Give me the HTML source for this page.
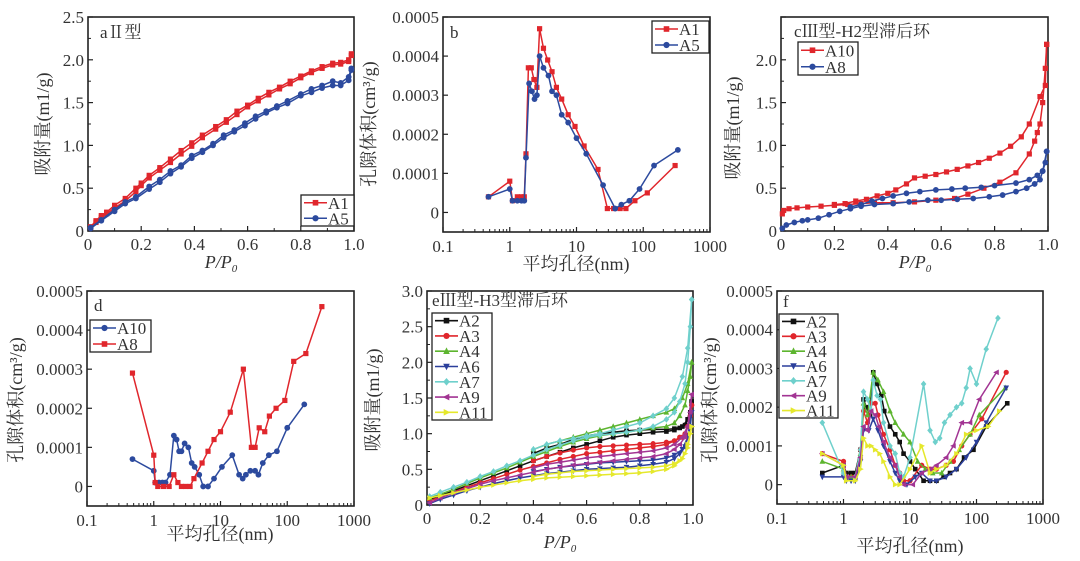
<!DOCTYPE html>
<html><head><meta charset="utf-8"><style>
html,body{margin:0;padding:0;background:#fff;}
svg{display:block;font-family:"Liberation Serif","Noto Serif CJK SC",serif;}
</style></head><body>
<svg id="fig" width="1080" height="561" viewBox="0 0 1080 561" xmlns="http://www.w3.org/2000/svg"></svg>
<script>
// ---------- Panel a data ----------
const aA1x=[0.01,0.03,0.05,0.07,0.1,0.14,0.18,0.2,0.23,0.27,0.31,0.35,0.39,0.43,0.48,0.52,0.56,0.6,0.64,0.68,0.72,0.76,0.8,0.84,0.88,0.92,0.95,0.98,0.99];
const aA1y=[0.05,0.12,0.18,0.22,0.3,0.38,0.5,0.56,0.65,0.74,0.84,0.94,1.03,1.12,1.22,1.3,1.4,1.47,1.55,1.62,1.68,1.75,1.81,1.87,1.92,1.96,1.97,2.0,2.07];
const aA1dy=[0.04,0.1,0.16,0.2,0.27,0.35,0.46,0.53,0.62,0.71,0.8,0.9,0.99,1.09,1.19,1.27,1.36,1.45,1.52,1.59,1.66,1.72,1.79,1.85,1.9,1.94,1.95,1.98,2.05];
const aA5x=[0.01,0.05,0.1,0.14,0.18,0.23,0.27,0.31,0.35,0.39,0.43,0.47,0.51,0.55,0.59,0.63,0.67,0.71,0.75,0.8,0.84,0.88,0.92,0.95,0.98,0.99];
const aA5y=[0.04,0.13,0.25,0.34,0.4,0.52,0.6,0.7,0.77,0.88,0.94,1.02,1.12,1.18,1.26,1.34,1.4,1.46,1.52,1.6,1.66,1.7,1.75,1.73,1.8,1.9];
const aA5dy=[0.03,0.12,0.23,0.32,0.38,0.49,0.57,0.67,0.75,0.85,0.92,1.0,1.09,1.16,1.23,1.31,1.38,1.44,1.49,1.58,1.62,1.67,1.7,1.7,1.76,1.88];
// ---------- Panel b data ----------
const bA1x=[0.48,1.0,1.1,1.3,1.5,1.65,1.75,1.9,2.1,2.3,2.55,2.8,3.2,3.7,4.3,5,6,7.5,9.5,13,21,29,36,45,55,75,115,300];
const bA1y=[4,8,3,4,4,4,15,37,37,34,32,47,42,39,36,32,29,25,22,17,11,1,1,1,1,3,5,12];
const bA5x=[0.48,1.0,1.1,1.3,1.5,1.65,1.75,1.95,2.15,2.35,2.55,2.8,3.2,3.8,4.3,5,6,7.5,10,14,25,38,47,62,88,145,330];
const bA5y=[4,6,3,3,3,3,14,33,31,29,30,40,37,35,31,30,25,23,19,15,7,1,2,3,6,12,16];
// ---------- Panel c data ----------
const cA10ax=[0.005,0.01,0.03,0.06,0.1,0.15,0.2,0.25,0.3,0.35,0.42,0.5,0.58,0.65,0.7,0.76,0.82,0.88,0.93,0.95,0.96,0.97,0.98,0.99,0.995];
const cA10ay=[0.2,0.24,0.26,0.27,0.28,0.29,0.3,0.31,0.32,0.33,0.33,0.34,0.36,0.38,0.43,0.5,0.57,0.68,0.9,1.05,1.15,1.25,1.5,1.9,2.18];
const cA10dx=[0.995,0.99,0.97,0.93,0.9,0.86,0.82,0.78,0.74,0.7,0.66,0.62,0.58,0.54,0.5,0.47,0.43,0.4,0.36,0.32,0.28,0.24,0.2];
const cA10dy=[2.18,1.7,1.57,1.25,1.1,0.99,0.91,0.85,0.8,0.76,0.72,0.69,0.66,0.64,0.62,0.55,0.48,0.44,0.41,0.37,0.35,0.32,0.31];
const cA8ax=[0.005,0.02,0.05,0.08,0.1,0.14,0.18,0.22,0.26,0.3,0.35,0.42,0.48,0.55,0.6,0.66,0.72,0.78,0.83,0.88,0.92,0.95,0.97,0.98,0.99,0.995];
const cA8ay=[0.03,0.07,0.1,0.12,0.13,0.15,0.19,0.23,0.26,0.29,0.31,0.32,0.34,0.36,0.36,0.37,0.38,0.4,0.42,0.46,0.5,0.55,0.6,0.7,0.8,0.93];
const cA8dx=[0.995,0.98,0.96,0.93,0.88,0.8,0.75,0.69,0.64,0.58,0.52,0.47,0.42,0.38,0.34,0.3,0.26];
const cA8dy=[0.93,0.7,0.65,0.6,0.56,0.53,0.51,0.5,0.49,0.48,0.46,0.44,0.41,0.38,0.35,0.31,0.28];
// ---------- Panel d data ----------
const dA10x=[0.48,1.0,1.05,1.2,1.35,1.5,1.75,2.0,2.2,2.4,2.6,2.9,3.3,3.7,4.1,4.8,5.5,6.5,8,10.5,15,19,21.5,24,28,33,37,43,53,70,100,180];
const dA10y=[7,4,1,1,1,1,3,13,12,9,9,11,10,6,5,3,0,0,2,5,8,3,2,3,4,4,3,6,8,9,15,21];
const dA8x=[0.48,1.0,1.05,1.15,1.4,1.7,2.0,2.3,2.6,3,3.5,4,5.3,6.5,8,10,14,22,29,33,38,46,54,68,92,125,190,330];
const dA8y=[29,8,1,0,0,0,3,1,0,0,0,2,6,9,12,14,19,30,10,10,15,14,18,20,22,32,34,46];
// ---------- Panel e data ----------
const eAdsX=[0.01,0.05,0.1,0.15,0.2,0.25,0.3,0.35,0.4,0.45,0.5,0.55,0.6,0.65,0.7,0.75,0.8,0.85,0.9,0.93,0.95,0.97,0.98,0.99,0.995];
const eDesX=[0.995,0.98,0.96,0.93,0.9,0.85,0.8,0.75,0.7,0.65,0.6,0.55,0.5,0.45,0.4];
const eNames=["A2","A3","A4","A6","A7","A9","A11"];
const eA2a=[0.08,0.13,0.2,0.27,0.34,0.41,0.48,0.55,0.62,0.68,0.74,0.8,0.85,0.9,0.95,0.98,1.0,1.02,1.03,1.05,1.08,1.12,1.2,1.3,1.45];
const eA2d=[1.45,1.2,1.1,1.07,1.06,1.06,1.05,1.04,1.02,1.0,0.97,0.92,0.85,0.8,0.72];
const eA3a=[0.06,0.11,0.18,0.25,0.31,0.37,0.43,0.49,0.54,0.59,0.64,0.68,0.72,0.74,0.76,0.78,0.8,0.82,0.85,0.9,0.95,1.0,1.1,1.25,1.4];
const eA3d=[1.4,1.1,0.95,0.9,0.88,0.86,0.85,0.84,0.83,0.82,0.8,0.77,0.73,0.68,0.62];
const eA4a=[0.1,0.15,0.22,0.3,0.38,0.45,0.52,0.6,0.68,0.75,0.82,0.88,0.93,0.97,1.0,1.02,1.05,1.08,1.1,1.15,1.25,1.4,1.6,1.8,2.0];
const eA4d=[2.0,1.7,1.5,1.35,1.3,1.25,1.2,1.15,1.1,1.05,1.0,0.95,0.9,0.85,0.78];
const eA6a=[0.02,0.08,0.14,0.2,0.25,0.3,0.34,0.38,0.41,0.44,0.46,0.48,0.5,0.51,0.52,0.53,0.55,0.57,0.6,0.65,0.72,0.82,0.95,1.1,1.3];
const eA6d=[1.3,0.95,0.78,0.7,0.66,0.63,0.62,0.61,0.6,0.59,0.57,0.55,0.53,0.5,0.47];
const eA7a=[0.12,0.18,0.25,0.32,0.4,0.47,0.55,0.62,0.7,0.78,0.84,0.9,0.95,0.98,1.0,1.02,1.05,1.1,1.2,1.3,1.45,1.7,2.0,2.5,2.88];
const eA7d=[2.88,2.2,1.8,1.5,1.35,1.25,1.15,1.1,1.05,1.0,0.97,0.93,0.9,0.85,0.78];
const eA9a=[0.03,0.1,0.17,0.23,0.29,0.34,0.38,0.42,0.46,0.5,0.53,0.56,0.58,0.6,0.62,0.64,0.66,0.68,0.72,0.78,0.85,0.95,1.1,1.3,1.55];
const eA9d=[1.55,1.1,0.95,0.85,0.8,0.76,0.74,0.72,0.7,0.68,0.66,0.63,0.6,0.57,0.52];
const eA11a=[0.1,0.13,0.17,0.21,0.25,0.28,0.31,0.34,0.36,0.38,0.39,0.4,0.41,0.42,0.43,0.44,0.45,0.47,0.5,0.55,0.62,0.72,0.85,1.0,1.1];
const eA11d=[1.1,0.8,0.65,0.58,0.55,0.53,0.52,0.51,0.5,0.49,0.48,0.47,0.45,0.43,0.4];
// ---------- Panel f data ----------
const fA2x=[0.48,1.0,1.1,1.3,1.5,1.8,2.0,2.2,2.5,2.8,3.2,3.7,4.1,5,6,7,8,10,12,16,20,25,32,40,50,65,90,140,290];
const fA2y=[3,5,3,3,3,9,22,20,18,29,26,23,19,15,13,11,8,6,4,1,1,1,2,3,4,7,9,15,21];
const fA3x=[0.48,1.0,1.1,1.3,1.5,1.8,2.0,2.3,2.6,3,3.3,4,5,6,7,8,10,15,20,25,35,45,60,80,120,280];
const fA3y=[8,6,2,2,2,9,19,16,21,21,18,13,9,5,3,1,1,5,4,4,5,6,10,13,17,29];
const fA4x=[0.48,1.0,1.1,1.3,1.5,1.8,2.0,2.3,2.8,3.3,4,5,6,8,10,13,17,22,30,40,55,80,110,270];
const fA4y=[6,4,2,2,2,8,21,18,29,27,24,19,16,13,11,6,4,3,3,6,9,13,18,25];
const fA6x=[0.48,1.0,1.1,1.3,1.5,1.8,2.0,2.4,2.8,3.3,4,5,6,7,9,12,15,20,25,35,50,70,100,140,280];
const fA6y=[2,2,1,1,1,6,14,14,17,14,10,6,3,1,0,2,3,1,1,2,4,7,11,16,25];
const fA7x=[0.48,1.0,1.1,1.5,1.8,2.0,2.3,2.6,2.8,3.2,3.6,4,5,6,7,8,10,16,20,24,28,33,40,50,60,70,80,100,140,210];
const fA7y=[16,3,2,2,9,24,22,19,27,23,22,16,10,8,3,2,7,26,14,11,12,16,18,20,21,25,30,26,35,43];
const fA9x=[0.48,1.0,1.1,1.5,1.8,2.0,2.3,2.6,3,3.4,4,5,6,7,8,11,15,20,25,35,45,60,80,110,200];
const fA9y=[8,5,2,2,7,15,14,19,18,15,11,7,5,2,0,0,3,4,5,7,10,16,16,22,29];
const fA11x=[0.48,1.0,1.1,1.5,1.8,2.0,2.3,2.6,3,3.5,4,5,6,7,10,15,20,25,35,50,70,100,150,220];
const fA11y=[8,5,1,1,4,12,10,10,9,8,6,2,0,0,4,10,3,4,5,8,13,14,15,19];

const NS="http://www.w3.org/2000/svg";
const svg=document.getElementById('fig');
function mk(tag,attrs,parent){const e=document.createElementNS(NS,tag);for(const k in attrs)e.setAttribute(k,attrs[k]);(parent||svg).appendChild(e);return e;}
function txt(s,x,y,size,anchor,parent,rot){const t=mk('text',{x:x,y:y,'font-size':size,'text-anchor':anchor||'middle',fill:'#333'},parent);if(rot)t.setAttribute('transform','rotate(-90 '+x+' '+y+')');t.textContent=s;return t;}

const COL={red:'#e0262c',blue:'#2c4a9e',black:'#111',green:'#5db52f',navy:'#2b3f9b',cyan:'#6fd0cc',mag:'#a23493',yel:'#e5e82c'};
const TF=17;

function makePanel(name,L,R,T,B,xmin,xmax,ymin,ymax,log){
  const g=mk('g',{});
  
  
  const sx=v=>log? L+(Math.log10(v)-Math.log10(xmin))/(Math.log10(xmax)-Math.log10(xmin))*(R-L) : L+(v-xmin)/(xmax-xmin)*(R-L);
  const sy=v=>B-(v-ymin)/(ymax-ymin)*(B-T);
  const frame=mk('rect',{x:L,y:T,width:R-L,height:B-T,fill:'none',stroke:'#222','stroke-width':1.6},g);
  
  
  return {g,sx,sy,L,R,T,B};
}
function linTicks(P,xt,xlab,yt,ylab,xminor,yminor){
  const g=mk('g',{},P.g);
  
  
  xt.forEach((v,i)=>{const x=P.sx(v);mk('line',{x1:x,y1:P.B,x2:x,y2:P.B-5,stroke:'#222','stroke-width':1.2},g);if(xlab[i]!=null)txt(xlab[i],x,P.B+19,TF,'middle',g);});
  xminor.forEach(v=>{const x=P.sx(v);mk('line',{x1:x,y1:P.B,x2:x,y2:P.B-3,stroke:'#222','stroke-width':1},g);});
  yt.forEach((v,i)=>{const y=P.sy(v);mk('line',{x1:P.L,y1:y,x2:P.L+5,y2:y,stroke:'#222','stroke-width':1.2},g);if(ylab[i]!=null)txt(ylab[i],P.L-4,y+6,TF,'end',g);});
  yminor.forEach(v=>{const y=P.sy(v);mk('line',{x1:P.L,y1:y,x2:P.L+3,y2:y,stroke:'#222','stroke-width':1},g);});
}
function logX(P){
  const g=mk('g',{},P.g);
  
  
  const labs=['0.1','1','10','100','1000'];
  [0.1,1,10,100,1000].forEach((v,i)=>{const x=P.sx(v);mk('line',{x1:x,y1:P.B,x2:x,y2:P.B-5,stroke:'#222','stroke-width':1.2},g);txt(labs[i],x,P.B+20,TF,'middle',g);
    if(v<1000)for(let k=2;k<10;k++){const xx=P.sx(v*k);mk('line',{x1:xx,y1:P.B,x2:xx,y2:P.B-3,stroke:'#222','stroke-width':1},g);}});
}
function marker(g,shape,x,y,c,s){
  s=s||2.6;
  if(shape==='sq')return mk('rect',{x:x-s,y:y-s,width:2*s,height:2*s,fill:c},g);
  if(shape==='ci')return mk('circle',{cx:x,cy:y,r:s+0.3,fill:c},g);
  if(shape==='tu')return mk('polygon',{points:`${x},${y-s-1} ${x-s-0.5},${y+s} ${x+s+0.5},${y+s}`,fill:c},g);
  if(shape==='td')return mk('polygon',{points:`${x},${y+s+1} ${x-s-0.5},${y-s} ${x+s+0.5},${y-s}`,fill:c},g);
  if(shape==='di')return mk('polygon',{points:`${x},${y-s-1} ${x+s+0.5},${y} ${x},${y+s+1} ${x-s-0.5},${y}`,fill:c},g);
  if(shape==='tl')return mk('polygon',{points:`${x-s-1},${y} ${x+s},${y-s-0.5} ${x+s},${y+s+0.5}`,fill:c},g);
  if(shape==='tr')return mk('polygon',{points:`${x+s+1},${y} ${x-s},${y-s-0.5} ${x-s},${y+s+0.5}`,fill:c},g);
}
function series(P,name,xs,ys,c,shape,scale,ms){
  const g=mk('g',{},P.g);
  
  
  const k=scale||1;
  const pts=xs.map((x,i)=>P.sx(x).toFixed(1)+','+P.sy(ys[i]*k).toFixed(1)).join(' ');
  mk('polyline',{points:pts,fill:'none',stroke:c,'stroke-width':1.5,'stroke-linejoin':'round'},g);
  xs.forEach((x,i)=>marker(g,shape,P.sx(x),P.sy(ys[i]*k),c,ms));
}
function legend(P,x,y,w,h,items,name){
  const g=mk('g',{},P.g);
  
  
  mk('rect',{x:x,y:y,width:w,height:h,fill:'#fff',stroke:'#222','stroke-width':1.3},g);
  const step=h/items.length;
  items.forEach((it,i)=>{
    const eg=mk('g',{},g);
    
    
    const yy=y+step*(i+0.5);
    mk('line',{x1:x+3,y1:yy,x2:x+26,y2:yy,stroke:it[1],'stroke-width':1.6},eg);
    marker(eg,it[2],x+14.5,yy,it[1],2.8);
    txt(it[0],x+27,yy+6,17,'start',eg);
  });
}
function ylabelText(s,x,y,name){const t=txt(s,x,y,18,'middle',svg,true);return t;}
function ppLabel(x,y,name){const t=mk('text',{x:x,y:y,'font-size':18,'text-anchor':'middle',fill:'#333','font-style':'italic'});
  t.innerHTML='P/P<tspan font-size="11" dy="4">0</tspan>';return t;}
function plainLabel(s,x,y,size,anchor,name){const t=txt(s,x,y,size,anchor);return t;}

const lin5=[0,0.2,0.4,0.6,0.8,1.0], lin5l=['0','0.2','0.4','0.6','0.8','1.0'];
const xmin10=[0.1,0.3,0.5,0.7,0.9];
// ===== Panel a =====
const PA=makePanel('panel-a',88,354,17,231,0,1,0,2.5,false);
linTicks(PA,lin5,lin5l,[0,0.5,1,1.5,2,2.5],['0','0.5','1.0','1.5','2.0','2.5'],xmin10,[0.25,0.75,1.25,1.75,2.25]);
series(PA,'series-a1-adsorption',aA1x,aA1y,COL.red,'sq');
series(PA,'series-a1-desorption',aA1x,aA1dy,COL.red,'sq');
series(PA,'series-a5-adsorption',aA5x,aA5y,COL.blue,'ci');
series(PA,'series-a5-desorption',aA5x,aA5dy,COL.blue,'ci');
legend(PA,301,195,53,31,[['A1',COL.red,'sq'],['A5',COL.blue,'ci']],'legend-a');
plainLabel('aⅡ型',100,38,17,'start','panel-a-title');
ylabelText('吸附量(m1/g)',49,124,'y-axis-title-a');
ppLabel(221,268,'x-axis-title-a');
// ===== Panel b =====
const PB=makePanel('panel-b',443,710,17,232,0.1,1000,-5,50,true);
logX(PB);
linTicks(PB,[],[],[0,10,20,30,40,50],['0','0.0001','0.0002','0.0003','0.0004','0.0005'],[],[]);
series(PB,'series-b-a1',bA1x,bA1y,COL.red,'sq');
series(PB,'series-b-a5',bA5x,bA5y,COL.blue,'ci');
legend(PB,652,21,57,32,[['A1',COL.red,'sq'],['A5',COL.blue,'ci']],'legend-b');
plainLabel('b',450,38,17,'start','panel-b-title');
ylabelText('孔隙体积(cm³/g)',375,124,'y-axis-title-b');
plainLabel('平均孔径(nm)',576,270,18,'middle','x-axis-title-b');
// ===== Panel c =====
const PC=makePanel('panel-c',781,1048,17,231,0,1,0,2.5,false);
linTicks(PC,lin5,lin5l,[0,0.5,1,1.5,2,2.5],['0','0.5','1.0','1.5','2.0',null],xmin10,[0.25,0.75,1.25,1.75,2.25]);
series(PC,'series-c-a10-adsorption',cA10ax,cA10ay,COL.red,'sq');
series(PC,'series-c-a10-desorption',cA10dx,cA10dy,COL.red,'sq');
series(PC,'series-c-a8-adsorption',cA8ax,cA8ay,COL.blue,'ci');
series(PC,'series-c-a8-desorption',cA8dx,cA8dy,COL.blue,'ci');
legend(PC,798,42,60,33,[['A10',COL.red,'sq'],['A8',COL.blue,'ci']],'legend-c');
plainLabel('cⅢ型-H2型滞后环',794,37,17,'start','panel-c-title');
ylabelText('吸附量(m1/g)',739,128,'y-axis-title-c');
ppLabel(915,268,'x-axis-title-c');
// ===== Panel d =====
const PD=makePanel('panel-d',87,354,291,506,0.1,1000,-5,50,true);
logX(PD);
linTicks(PD,[],[],[0,10,20,30,40,50],['0','0.0001','0.0002','0.0003','0.0004','0.0005'],[],[]);
series(PD,'series-d-a10',dA10x,dA10y,COL.blue,'ci');
series(PD,'series-d-a8',dA8x,dA8y,COL.red,'sq');
legend(PD,90,320,61,32,[['A10',COL.blue,'ci'],['A8',COL.red,'sq']],'legend-d');
plainLabel('d',94,311,17,'start','panel-d-title');
ylabelText('孔隙体积(cm³/g)',22,400,'y-axis-title-d');
plainLabel('平均孔径(nm)',220,540,18,'middle','x-axis-title-d');
// ===== Panel e =====
const PE=makePanel('panel-e',427,693,291,505,0,1,0,3,false);
linTicks(PE,lin5,lin5l,[0,0.5,1,1.5,2,2.5,3],['0','0.5','1.0','1.5','2.0','2.5','3.0'],xmin10,[0.25,0.75,1.25,1.75,2.25,2.75]);
const eCols=[COL.black,COL.red,COL.green,COL.navy,COL.cyan,COL.mag,COL.yel];
const eShapes=['sq','ci','tu','td','di','tl','tr'];
const eAds=[eA2a,eA3a,eA4a,eA6a,eA7a,eA9a,eA11a];
const eDes=[eA2d,eA3d,eA4d,eA6d,eA7d,eA9d,eA11d];
eNames.forEach((n,i)=>{
  series(PE,'series-e-'+n.toLowerCase()+'-adsorption',eAdsX,eAds[i],eCols[i],eShapes[i],1,2.3);
  series(PE,'series-e-'+n.toLowerCase()+'-desorption',eDesX,eDes[i],eCols[i],eShapes[i],1,2.3);
});
legend(PE,432,313,60,107,eNames.map((n,i)=>[n,eCols[i],eShapes[i]]),'legend-e');
plainLabel('eⅢ型-H3型滞后环',432,306,17,'start','panel-e-title');
ylabelText('吸附量(m1/g)',379,400,'y-axis-title-e');
ppLabel(560,548,'x-axis-title-e');
// ===== Panel f =====
const PF=makePanel('panel-f',777,1043,291,504,0.1,1000,-5,50,true);
logX(PF);
linTicks(PF,[],[],[0,10,20,30,40,50],['0','0.0001','0.0002','0.0003','0.0004','0.0005'],[],[]);
const fXs=[fA2x,fA3x,fA4x,fA6x,fA7x,fA9x,fA11x];
const fYs=[fA2y,fA3y,fA4y,fA6y,fA7y,fA9y,fA11y];
eNames.forEach((n,i)=>series(PF,'series-f-'+n.toLowerCase(),fXs[i],fYs[i],eCols[i],eShapes[i],1,2.3));
legend(PF,779,314,59,104,eNames.map((n,i)=>[n,eCols[i],eShapes[i]]),'legend-f');
plainLabel('f',783,307,17,'start','panel-f-title');
ylabelText('孔隙体积(cm³/g)',716,400,'y-axis-title-f');
plainLabel('平均孔径(nm)',910,552,18,'middle','x-axis-title-f');
</script>
</body></html>
